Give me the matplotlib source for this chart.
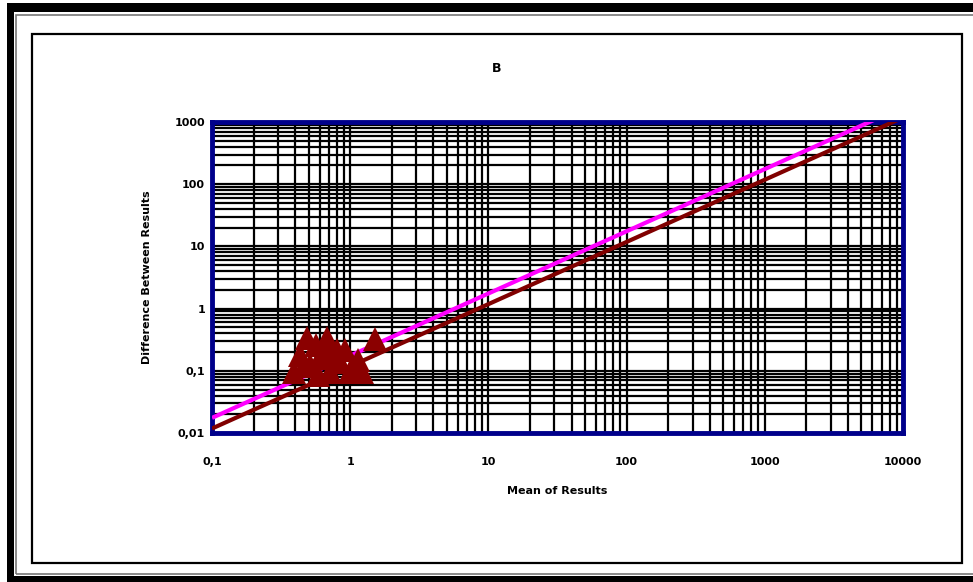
import numpy as np
import matplotlib
matplotlib.use("Agg")
import matplotlib.pyplot as plt
from matplotlib.patches import Rectangle
from matplotlib.ticker import LogLocator, FixedLocator, NullFormatter

# ---- data ----
title_text = "B"
x_label = "Mean of Results"
y_label = "Difference Between Results"
x_ticks = [0.1, 1, 10, 100, 1000, 10000]
x_tick_labels = ["0,1", "1", "10", "100", "1000", "10000"]
y_ticks = [0.01, 0.1, 1, 10, 100, 1000]
y_tick_labels = ["0,01", "0,1", "1", "10", "100", "1000"]

points_x = [0.49, 0.68, 1.51, 0.39, 0.43, 0.92, 1.14, 1.22, 0.51, 0.60,
            0.71, 0.84, 0.585, 1.00, 0.80, 0.57, 0.46, 0.65, 0.75, 1.05]
points_y = [0.34, 0.34, 0.32, 0.096, 0.18, 0.22, 0.15, 0.096, 0.124, 0.16,
            0.096, 0.14, 0.086, 0.096, 0.22, 0.26, 0.12, 0.22, 0.17, 0.12]

line_x = [0.1, 10000]
upper_line_y = [0.0175, 1750]   # magenta limit line
lower_line_y = [0.0118, 1180]   # dark red line

W, H = 973, 582
fig = plt.figure(figsize=(W / 100, H / 100), dpi=100)
fig.patch.set_facecolor("white")

def px_rect(x0, y0, x1, y1, **kw):
    # rectangle in pixel coords (top-left origin)
    fig.patches.append(Rectangle((x0 / W, 1 - y1 / H), (x1 - x0) / W, (y1 - y0) / H,
                                 transform=fig.transFigure, **kw))

# outer black bands
px_rect(7, 3, W, 12, facecolor="black", edgecolor="none")
px_rect(7, 3, 14, H, facecolor="black", edgecolor="none")
px_rect(7, 576, W, H, facecolor="black", edgecolor="none")
# thin gray line
px_rect(16, 14.5, W + 5, 574, facecolor="none", edgecolor="#777777", linewidth=1.2)
# chart frame
px_rect(32, 33.5, 962, 563, facecolor="none", edgecolor="black", linewidth=1.6)

ax = fig.add_axes([212 / W, 1 - 433 / H, (903 - 212) / W, (433 - 122) / H])
ax.set_xscale("log")
ax.set_yscale("log")
ax.set_xlim(0.1, 10000)
ax.set_ylim(0.01, 1000)

ax.xaxis.set_major_locator(FixedLocator(x_ticks))
ax.yaxis.set_major_locator(FixedLocator(y_ticks))
ax.set_xticklabels(x_tick_labels)
ax.set_yticklabels(y_tick_labels)
ax.xaxis.set_minor_locator(LogLocator(base=10, subs=np.arange(2, 10)))
ax.yaxis.set_minor_locator(LogLocator(base=10, subs=np.arange(2, 10)))
ax.xaxis.set_minor_formatter(NullFormatter())
ax.yaxis.set_minor_formatter(NullFormatter())

ax.grid(True, which="both", color="black", linewidth=1.6)
ax.set_axisbelow(True)
ax.tick_params(which="both", length=0, labelsize=8)
for lab in ax.get_xticklabels() + ax.get_yticklabels():
    lab.set_fontweight("bold")
ax.tick_params(axis="x", pad=17)
ax.tick_params(axis="y", pad=5)

for s in ax.spines.values():
    s.set_color("#00008B")
    s.set_linewidth(3.5)

ax.plot(line_x, upper_line_y, color="#FF00FF", linewidth=3, solid_capstyle="butt", zorder=3)
ax.plot(line_x, lower_line_y, color="#800000", linewidth=3, solid_capstyle="butt", zorder=3)
ax.plot(points_x, points_y, linestyle="none", marker="^", markersize=17,
        color="#8B0000", markeredgecolor="#8B0000", markeredgewidth=0,
        zorder=4, clip_on=False)

ax.set_xlabel(x_label, fontsize=8, fontweight="bold", labelpad=14)
ax.set_ylabel(y_label, fontsize=8, fontweight="bold", labelpad=16)
fig.text(497 / W, 1 - 68 / H, title_text, fontsize=9, fontweight="bold",
         ha="center", va="center")

fig.savefig("out.png", dpi=100)
